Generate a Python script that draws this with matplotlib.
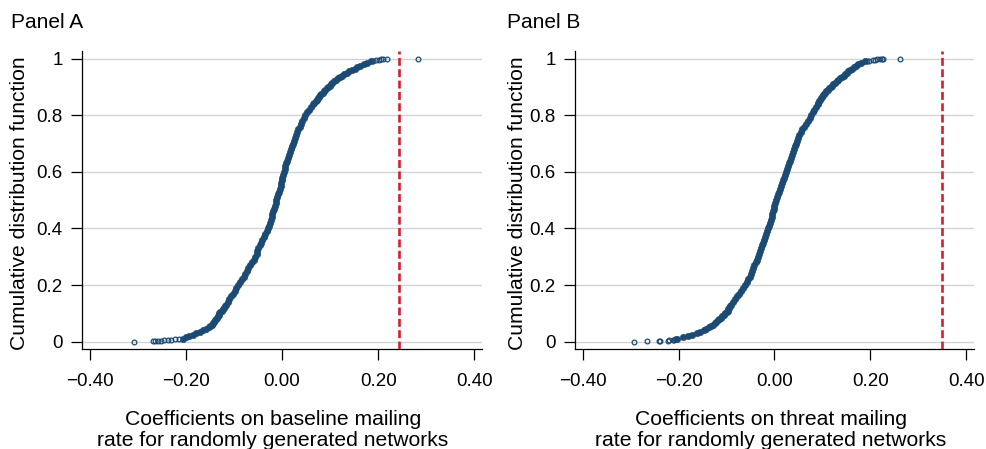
import numpy as np
import matplotlib
import matplotlib.pyplot as plt

matplotlib.use("Agg")

plt.rcParams["font.family"] = ["Liberation Sans", "DejaVu Sans"]

cdf_levels = [0.01, 0.02, 0.03, 0.04, 0.05, 0.06, 0.07, 0.08, 0.09, 0.10,
              0.11, 0.12, 0.13, 0.14, 0.15, 0.16, 0.17, 0.18, 0.19, 0.20,
              0.21, 0.22, 0.23, 0.24, 0.25, 0.26, 0.27, 0.28, 0.29, 0.30,
              0.31, 0.32, 0.33, 0.34, 0.35, 0.36, 0.37, 0.38, 0.39, 0.40,
              0.41, 0.42, 0.43, 0.44, 0.45, 0.46, 0.47, 0.48, 0.49, 0.50,
              0.51, 0.52, 0.53, 0.54, 0.55, 0.56, 0.57, 0.58, 0.59, 0.60,
              0.61, 0.62, 0.63, 0.64, 0.65, 0.66, 0.67, 0.68, 0.69, 0.70,
              0.71, 0.72, 0.73, 0.74, 0.75, 0.76, 0.77, 0.78, 0.79, 0.80,
              0.81, 0.82, 0.83, 0.84, 0.85, 0.86, 0.87, 0.88, 0.89, 0.90,
              0.91, 0.92, 0.93, 0.94, 0.95, 0.96, 0.97, 0.98, 0.99]
# extra readings where the curve is flatter
cdf_extra = [0.015, 0.025, 0.035, 0.045, 0.055, 0.065, 0.075, 0.085, 0.095, 0.105,
             0.115, 0.125,
             0.845, 0.855, 0.865, 0.875, 0.885, 0.895, 0.905, 0.915, 0.925, 0.935,
             0.945, 0.955, 0.965, 0.975, 0.985]

# Panel A: coefficients on baseline mailing rate
coef_a = [-0.206, -0.193, -0.178, -0.164, -0.152, -0.146, -0.142, -0.138, -0.134, -0.130,
          -0.1255, -0.121, -0.117, -0.113, -0.110, -0.106, -0.102, -0.098, -0.095, -0.091,
          -0.087, -0.084, -0.080, -0.077, -0.073, -0.070, -0.066, -0.063, -0.059, -0.056,
          -0.053, -0.051, -0.049, -0.046, -0.044, -0.041, -0.038, -0.035, -0.032, -0.029,
          -0.027, -0.025, -0.023, -0.021, -0.020, -0.018, -0.016, -0.015, -0.013, -0.012,
          -0.010, -0.008, -0.006, -0.005, -0.003, -0.002, 0.000, 0.001, 0.003, 0.004,
          0.006, 0.007, 0.009, 0.010, 0.012, 0.014, 0.016, 0.018, 0.021, 0.023,
          0.025, 0.027, 0.029, 0.032, 0.034, 0.037, 0.039, 0.042, 0.045, 0.048,
          0.052, 0.056, 0.060, 0.065, 0.070, 0.075, 0.080, 0.085, 0.090, 0.096,
          0.102, 0.109, 0.116, 0.125, 0.135, 0.146, 0.157, 0.170, 0.185]
extra_a = [-0.200, -0.186, -0.171, -0.158, -0.149, -0.144, -0.140, -0.136, -0.132, -0.128,
           -0.123, -0.119,
           0.067, 0.072, 0.077, 0.082, 0.087, 0.093, 0.099, 0.105, 0.112, 0.120,
           0.130, 0.140, 0.151, 0.163, 0.177]
tail_a_x = [-0.308, -0.269, -0.264, -0.258, -0.252, -0.245, -0.238, -0.230, -0.222, -0.214,
            0.190, 0.196, 0.201, 0.206, 0.211, 0.219, 0.283]
tail_a_y = [0.000, 0.001, 0.002, 0.003, 0.004, 0.005, 0.006, 0.007, 0.008, 0.009,
            0.992, 0.994, 0.996, 0.997, 0.998, 0.999, 1.000]
actual_a = 0.243

# Panel B: coefficients on threat mailing rate
coef_b = [-0.203, -0.180, -0.162, -0.148, -0.137, -0.129, -0.122, -0.115, -0.109, -0.103,
          -0.098, -0.094, -0.090, -0.086, -0.082, -0.078, -0.074, -0.069, -0.065, -0.061,
          -0.058, -0.055, -0.052, -0.049, -0.047, -0.044, -0.042, -0.039, -0.037, -0.035,
          -0.033, -0.031, -0.028, -0.026, -0.024, -0.022, -0.020, -0.017, -0.015, -0.013,
          -0.011, -0.010, -0.008, -0.006, -0.005, -0.003, -0.001, 0.000, 0.002, 0.003,
          0.005, 0.007, 0.009, 0.011, 0.013, 0.015, 0.017, 0.020, 0.022, 0.024,
          0.026, 0.028, 0.030, 0.032, 0.034, 0.036, 0.038, 0.040, 0.043, 0.045,
          0.047, 0.049, 0.052, 0.055, 0.058, 0.062, 0.066, 0.070, 0.074, 0.077,
          0.080, 0.083, 0.086, 0.090, 0.093, 0.097, 0.101, 0.106, 0.111, 0.117,
          0.123, 0.130, 0.137, 0.144, 0.151, 0.158, 0.166, 0.175, 0.188]
extra_b = [-0.191, -0.171, -0.155, -0.142, -0.133, -0.125, -0.118, -0.112, -0.106, -0.100,
           -0.096, -0.092,
           0.091, 0.095, 0.099, 0.103, 0.108, 0.114, 0.120, 0.126, 0.133, 0.140,
           0.147, 0.154, 0.162, 0.170, 0.181]
tail_b_x = [-0.292, -0.265, -0.241, -0.239, -0.223, -0.221, -0.212, -0.209, -0.207, -0.205,
            0.193, 0.198, 0.206, 0.210, 0.214, 0.219, 0.224, 0.227, 0.261]
tail_b_y = [0.000, 0.001, 0.002, 0.003, 0.004, 0.005, 0.006, 0.007, 0.008, 0.009,
            0.992, 0.993, 0.995, 0.996, 0.997, 0.998, 0.999, 0.9995, 1.000]
actual_b = 0.349

x_ticks = [-0.4, -0.2, 0.0, 0.2, 0.4]
y_ticks = [0, 0.2, 0.4, 0.6, 0.8, 1]
y_ticklabels = ["0", "0.2", "0.4", "0.6", "0.8", "1"]

point_color = "#1b4a72"
line_color = "#d2202f"
grid_color = "#d3d3d3"

W, H = 987, 449
fig = plt.figure(figsize=(W / 100, H / 100), dpi=100)


def px_axes(left, right, top, bottom):
    return fig.add_axes([left / W, 1 - bottom / H, (right - left) / W, (bottom - top) / H])


panels = [
    dict(ax=px_axes(82, 482, 51, 349), coef=coef_a, extra=extra_a, tx=tail_a_x, ty=tail_a_y,
         vline=actual_a, title="Panel A", title_x=11, ylab_x=20, xlab_x=273,
         xlab="Coefficients on baseline mailing\nrate for randomly generated networks"),
    dict(ax=px_axes(575, 974, 51, 349), coef=coef_b, extra=extra_b, tx=tail_b_x, ty=tail_b_y,
         vline=actual_b, title="Panel B", title_x=507, ylab_x=518, xlab_x=771,
         xlab="Coefficients on threat mailing\nrate for randomly generated networks"),
]

for p in panels:
    ax = p["ax"]
    # body of the distribution: in the source the circles overlap into a solid band
    body_x = np.concatenate([p["coef"], p["extra"]])
    body_y = np.concatenate([cdf_levels, cdf_extra])
    ax.plot(body_x, body_y, linestyle="none", marker="o", markersize=4.6,
            markerfacecolor=point_color, markeredgecolor=point_color, markeredgewidth=0.4, zorder=3)
    # sparse tails: individual hollow circles
    ax.plot(p["tx"], p["ty"], linestyle="none", marker="o", markersize=3.4,
            markerfacecolor="none", markeredgecolor=point_color, markeredgewidth=0.9, zorder=3)
    ax.axvline(p["vline"], color=line_color, linewidth=1.9, dashes=(3.0, 1.3), zorder=4)

    ax.set_xlim(-0.416, 0.416)
    ax.set_ylim(-0.026, 1.027)
    ax.set_xticks(x_ticks)
    ax.set_xticklabels([f"{v:.2f}".replace("-", "\u2212") for v in x_ticks])
    ax.set_yticks(y_ticks)
    ax.set_yticklabels(y_ticklabels)
    ax.grid(axis="y", color=grid_color, linewidth=1.0)
    ax.set_axisbelow(True)
    for side in ["top", "right"]:
        ax.spines[side].set_visible(False)
    for side in ["left", "bottom"]:
        ax.spines[side].set_linewidth(0.9)
    ax.tick_params(axis="both", direction="out", length=8, width=0.9, labelsize=13.5, colors="black")
    ax.tick_params(axis="x", pad=9)
    ax.tick_params(axis="y", pad=6)

    fig.text(p["title_x"] / W, 1 - 22 / H, p["title"], fontsize=15, ha="left", va="center")
    fig.text(p["ylab_x"] / W, 1 - 203 / H, "Cumulative distribution function", fontsize=15.2,
             rotation=90, ha="center", va="center")
    fig.text(p["xlab_x"] / W, 1 - 410 / H, p["xlab"], fontsize=15.2, ha="center", va="top",
             linespacing=1.13)

fig.savefig("out.png", dpi=100)
